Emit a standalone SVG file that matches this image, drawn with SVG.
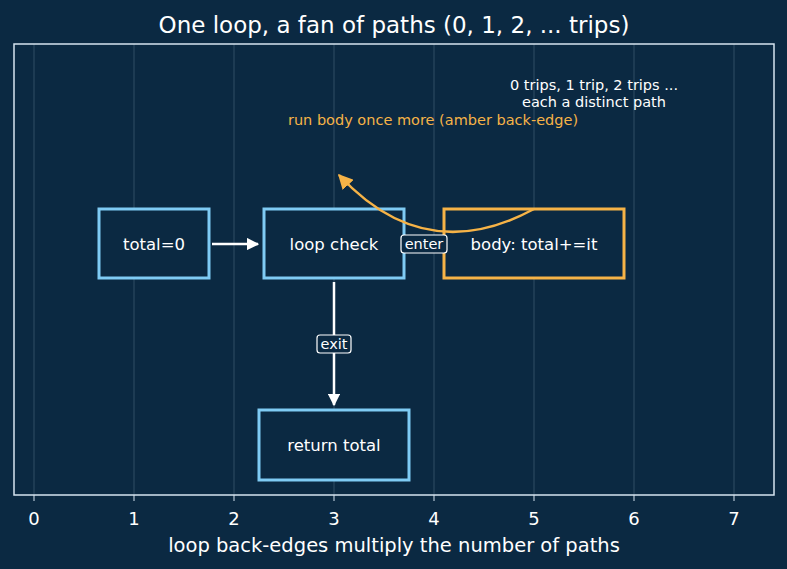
<svg xmlns="http://www.w3.org/2000/svg" width="787" height="569" viewBox="0 0 787 569">
<defs>
<style>
text{font-family:"DejaVu Sans","Liberation Sans",sans-serif;fill:#ffffff}
.grid{stroke:#3a5870;stroke-width:0.8}
.tick{stroke:#d6e4f0;stroke-width:1}
.tl{font-size:18px;text-anchor:middle}
.box{fill:#0b2942;stroke:#7fcbf4;stroke-width:3}
.amberbox{fill:#0b2942;stroke:#f6b347;stroke-width:3}
.nt{font-size:16.5px;text-anchor:middle;dominant-baseline:central}
.lbl{fill:#0b2942;stroke:#ffffff;stroke-width:1.2}
.lt{font-size:14.5px;text-anchor:middle;dominant-baseline:central}
.wline{stroke:#ffffff;stroke-width:2.5;fill:none}
.ann{font-size:14.5px;text-anchor:middle}
</style>
<marker id="wh" viewBox="0 0 10 10" refX="9" refY="5" markerWidth="5" markerHeight="5" orient="auto" markerUnits="strokeWidth">
<path d="M0,0 L10,5 L0,10 z" fill="#ffffff"/>
</marker>
<marker id="ah" viewBox="0 0 10 10" refX="9" refY="5" markerWidth="6" markerHeight="6" orient="auto" markerUnits="strokeWidth">
<path d="M0,0 L10,5 L0,10 z" fill="#f6b347"/>
</marker>
</defs>
<rect width="787" height="569" fill="#0b2942"/>
<g id="grid">
<line class="grid" x1="34" y1="44" x2="34" y2="495"/>
<line class="grid" x1="134" y1="44" x2="134" y2="495"/>
<line class="grid" x1="234" y1="44" x2="234" y2="495"/>
<line class="grid" x1="334" y1="44" x2="334" y2="495"/>
<line class="grid" x1="434" y1="44" x2="434" y2="495"/>
<line class="grid" x1="534" y1="44" x2="534" y2="495"/>
<line class="grid" x1="634" y1="44" x2="634" y2="495"/>
<line class="grid" x1="734" y1="44" x2="734" y2="495"/>
</g>
<text x="394" y="33" style="font-size:23px;text-anchor:middle">One loop, a fan of paths (0, 1, 2, ... trips)</text>
<g id="nodes">
<g id="n-total"><rect class="box" x="99" y="209" width="110" height="69"/><text class="nt" x="154" y="244">total=0</text></g>
<g id="n-loop"><rect class="box" x="264" y="209" width="140" height="69"/><text class="nt" x="334" y="244">loop check</text></g>
<g id="n-body"><rect class="amberbox" x="444" y="209" width="180" height="69"/><text class="nt" x="534" y="244">body: total+=it</text></g>
<g id="n-return"><rect class="box" x="259" y="410" width="150" height="70"/><text class="nt" x="334" y="445">return total</text></g>
</g>
<g id="connectors">
<line class="wline" x1="212" y1="244" x2="258" y2="244" marker-end="url(#wh)"/>
<line class="wline" x1="334" y1="282" x2="334" y2="405" marker-end="url(#wh)"/>
<path d="M534,209 Q425,268 339,175" fill="none" stroke="#f6b347" stroke-width="2.5" marker-end="url(#ah)"/>
<rect class="lbl" x="401" y="235" width="46" height="18" rx="3"/>
<text class="lt" x="424" y="244">enter</text>
<rect class="lbl" x="317" y="335" width="34" height="18" rx="3"/>
<text class="lt" x="334" y="344">exit</text>
</g>
<text class="ann" x="594" y="90">0 trips, 1 trip, 2 trips ...</text>
<text class="ann" x="594" y="107">each a distinct path</text>
<text class="ann" x="433" y="125" style="fill:#f6b347">run body once more (amber back-edge)</text>
<rect x="14" y="44" width="760" height="451" fill="none" stroke="#d6e4f0" stroke-width="1.5"/>
<g id="ticks">
<line class="tick" x1="34" y1="495" x2="34" y2="501"/>
<line class="tick" x1="134" y1="495" x2="134" y2="501"/>
<line class="tick" x1="234" y1="495" x2="234" y2="501"/>
<line class="tick" x1="334" y1="495" x2="334" y2="501"/>
<line class="tick" x1="434" y1="495" x2="434" y2="501"/>
<line class="tick" x1="534" y1="495" x2="534" y2="501"/>
<line class="tick" x1="634" y1="495" x2="634" y2="501"/>
<line class="tick" x1="734" y1="495" x2="734" y2="501"/>
<text class="tl" x="34" y="525">0</text>
<text class="tl" x="134" y="525">1</text>
<text class="tl" x="234" y="525">2</text>
<text class="tl" x="334" y="525">3</text>
<text class="tl" x="434" y="525">4</text>
<text class="tl" x="534" y="525">5</text>
<text class="tl" x="634" y="525">6</text>
<text class="tl" x="734" y="525">7</text>
</g>
<text x="394" y="552" style="font-size:19.5px;text-anchor:middle">loop back-edges multiply the number of paths</text>
</svg>
